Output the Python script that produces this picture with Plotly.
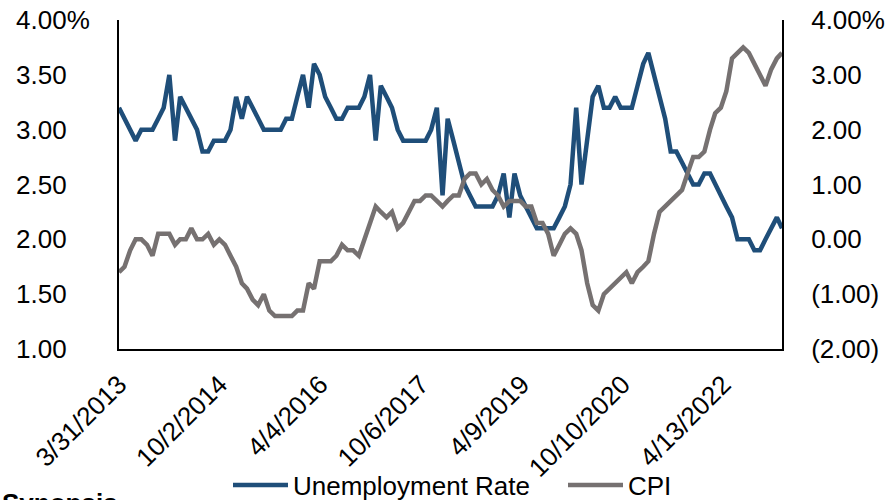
import pandas as pd
import plotly.graph_objects as go

# Monthly observations, month-end dates
START = "2013-03-31"
N_MONTHS = 120

unemployment_rate = [
    3.2, 3.1, 3.0, 2.9, 3.0, 3.0, 3.0, 3.1, 3.2, 3.5,
    2.9, 3.3, 3.2, 3.1, 3.0, 2.8, 2.8, 2.9, 2.9, 2.9,
    3.0, 3.3, 3.1, 3.3, 3.2, 3.1, 3.0, 3.0, 3.0, 3.0,
    3.1, 3.1, 3.3, 3.5, 3.2, 3.6, 3.5, 3.3, 3.2, 3.1,
    3.1, 3.2, 3.2, 3.2, 3.3, 3.5, 2.9, 3.4, 3.3, 3.2,
    3.0, 2.9, 2.9, 2.9, 2.9, 2.9, 3.0, 3.2, 2.4, 3.1,
    2.9, 2.7, 2.5, 2.4, 2.3, 2.3, 2.3, 2.3, 2.4, 2.6,
    2.2, 2.6, 2.4, 2.3, 2.2, 2.1, 2.1, 2.1, 2.1, 2.2,
    2.3, 2.5, 3.2, 2.5, 2.9, 3.3, 3.4, 3.2, 3.2, 3.3,
    3.2, 3.2, 3.2, 3.4, 3.6, 3.7, 3.5, 3.3, 3.1, 2.8,
    2.8, 2.7, 2.6, 2.5, 2.5, 2.6, 2.6, 2.5, 2.4, 2.3,
    2.2, 2.0, 2.0, 2.0, 1.9, 1.9, 2.0, 2.1, 2.2, 2.1,
]

cpi = [
    -0.6, -0.5, -0.2, 0.0, 0.0, -0.1, -0.3, 0.1, 0.1, 0.1,
    -0.1, 0.0, 0.0, 0.2, 0.0, 0.0, 0.1, -0.1, 0.0, -0.1,
    -0.3, -0.5, -0.8, -0.9, -1.1, -1.2, -1.0, -1.3, -1.4, -1.4,
    -1.4, -1.4, -1.3, -1.3, -0.8, -0.9, -0.4, -0.4, -0.4, -0.3,
    -0.1, -0.2, -0.2, -0.3, 0.0, 0.3, 0.6, 0.5, 0.4, 0.5,
    0.2, 0.3, 0.5, 0.7, 0.7, 0.8, 0.8, 0.7, 0.6, 0.7,
    0.8, 0.8, 1.1, 1.2, 1.2, 1.0, 1.1, 0.9, 0.8, 0.6,
    0.7, 0.7, 0.7, 0.6, 0.6, 0.3, 0.3, 0.1, -0.3, -0.1,
    0.1, 0.2, 0.1, -0.2, -0.8, -1.2, -1.3, -1.0, -0.9, -0.8,
    -0.7, -0.6, -0.8, -0.6, -0.5, -0.4, 0.1, 0.5, 0.6, 0.7,
    0.8, 0.9, 1.2, 1.5, 1.5, 1.6, 2.0, 2.3, 2.4, 2.7,
    3.3, 3.4, 3.5, 3.4, 3.2, 3.0, 2.8, 3.1, 3.3, 3.4,
]

x_tick_dates = ["2013-03-31", "2014-10-02", "2016-04-04", "2017-10-06",
                "2019-04-09", "2020-10-10", "2022-04-13"]
x_tick_labels = ["3/31/2013", "10/2/2014", "4/4/2016", "10/6/2017",
                 "4/9/2019", "10/10/2020", "4/13/2022"]

left_ticks = [1.0, 1.5, 2.0, 2.5, 3.0, 3.5, 4.0]
left_labels = ["1.00", "1.50", "2.00", "2.50", "3.00", "3.50", "4.00%"]
right_ticks = [-2, -1, 0, 1, 2, 3, 4]
right_labels = ["(2.00)", "(1.00)", "0.00", "1.00", "2.00", "3.00", "4.00%"]

BLUE = "#1F4E79"
GREY = "#767171"
FONT = "Arial, Liberation Sans, sans-serif"
FS = 26

# plot area in pixels (left, width, bottom, height)
PL, PW, PB, PH = 119, 663, 349, 329

dates = pd.date_range(START, periods=N_MONTHS, freq=pd.offsets.MonthEnd())

# pad labels without the percent sign so all right edges line up
hidden_pct = '<span style="color:rgba(0,0,0,0)">%</span>'
left_text = [t if t.endswith("%") else t + hidden_pct for t in left_labels]

fig = go.Figure()
fig.add_trace(go.Scatter(
    x=dates, y=unemployment_rate, name="Unemployment Rate",
    mode="lines", line=dict(color=BLUE, width=4.5), yaxis="y",
    legend="legend",
))
fig.add_trace(go.Scatter(
    x=dates, y=cpi, name="CPI",
    mode="lines", line=dict(color=GREY, width=4.5), yaxis="y2",
    legend="legend2",
))


def legend_at(px_left):
    return dict(
        orientation="h", x=(px_left - PL) / PW, xanchor="left",
        y=(PB - 485) / PH, yanchor="middle",
        font=dict(size=FS), itemwidth=55, borderwidth=0,
        bgcolor="rgba(0,0,0,0)",
    )


fig.update_layout(
    width=891, height=500,
    margin=dict(l=PL, r=891 - PL - PW, t=PB - PH, b=500 - PB, autoexpand=False),
    paper_bgcolor="white", plot_bgcolor="white",
    font=dict(family=FONT, size=FS, color="black"),
    showlegend=True,
    legend=legend_at(228),
    legend2=legend_at(563),
    xaxis=dict(
        type="date", range=[dates[0], dates[-1]],
        tickvals=x_tick_dates, ticktext=x_tick_labels, tickangle=-45,
        showline=True, linecolor="black", linewidth=2,
        showgrid=False, zeroline=False, ticks="", automargin=False,
        ticklabelstandoff=8,
    ),
    yaxis=dict(
        range=[1, 4], tickvals=left_ticks, ticktext=left_text,
        showline=True, linecolor="black", linewidth=2,
        showgrid=False, zeroline=False, ticks="", automargin=False,
        ticklabelstandoff=22,
    ),
    yaxis2=dict(
        range=[-2, 4], tickvals=right_ticks, ticktext=right_labels,
        overlaying="y", side="right",
        showline=True, linecolor="black", linewidth=2,
        showgrid=False, zeroline=False, ticks="", automargin=False,
        ticklabelstandoff=22,
    ),
    annotations=[dict(
        text="<b>Synopsis</b>", xref="paper", yref="paper",
        x=(0 - PL) / PW, y=(PB - 486) / PH, xanchor="left", yanchor="top",
        showarrow=False, font=dict(size=FS, color="black"),
    )],
)

fig.write_html("out.html")
